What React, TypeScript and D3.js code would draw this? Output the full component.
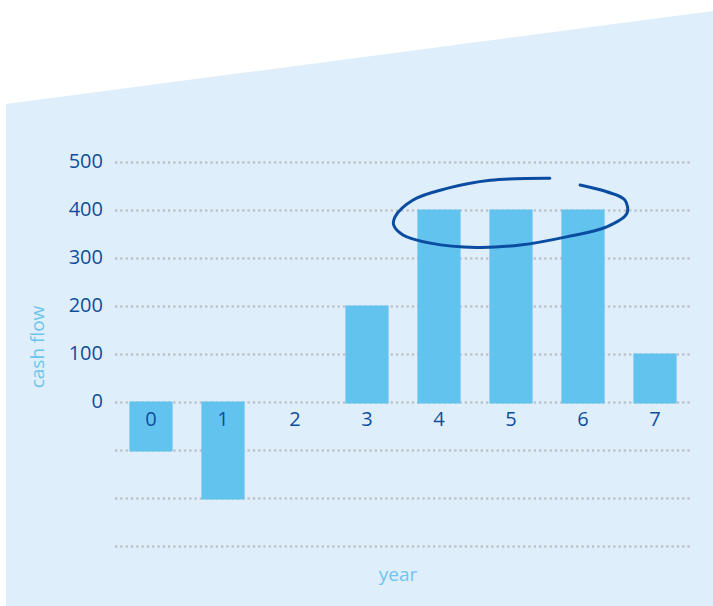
import { useRef, useEffect } from "react";
import * as d3 from "d3";

const years = ["0", "1", "2", "3", "4", "5", "6", "7"];
const cashFlow = [-100, -200, 0, 200, 400, 400, 400, 100];
const yTicks = [0, 100, 200, 300, 400, 500];
const gridValues = [-300, -200, -100, 0, 100, 200, 300, 400, 500];

// hand-drawn ring around years 4-6, in (year index, value) units
const ringYear = [5.54, 4.71, 4.11, 3.64, 3.39, 3.37, 3.5, 3.88, 4.52, 5.13, 5.77, 6.33, 6.61, 6.58, 6.33, 5.96];
const ringValue = [466, 462, 445, 421, 386, 369, 348, 331, 322, 327, 344, 365, 393, 421, 438, 452];

const W = 713;
const H = 606;
const FONT = "'Open Sans', sans-serif";
const DARK = "#0f4e9d";
const LIGHT = "#6cc5ee";

export default function App() {
  const svgRef = useRef<SVGSVGElement | null>(null);

  useEffect(() => {
    document.body.style.margin = "0";
    const svg = d3.select(svgRef.current);
    svg.selectAll("*").remove();

    const x = d3
      .scaleBand<string>()
      .domain(years)
      .range([115, 691])
      .paddingInner(0.4)
      .paddingOuter(0.2);

    const y = d3.scaleLinear().domain([-300, 500]).range([546, 162]);

    // background panel
    svg
      .append("path")
      .attr("d", `M6,${H} L6,104 L${W},11 L${W},${H} Z`)
      .attr("fill", "#dfeefb");

    // dotted grid
    svg
      .append("g")
      .selectAll("line")
      .data(gridValues)
      .join("line")
      .attr("x1", 115)
      .attr("x2", 690)
      .attr("y1", (d) => y(d) + 0.5)
      .attr("y2", (d) => y(d) + 0.5)
      .attr("stroke", "#bfc3c7")
      .attr("stroke-width", 2.3)
      .attr("stroke-dasharray", "2.3 3");

    // y tick labels
    svg
      .append("g")
      .selectAll("text")
      .data(yTicks)
      .join("text")
      .attr("x", 103)
      .attr("y", (d) => y(d) + 6)
      .attr("text-anchor", "end")
      .attr("font-family", FONT)
      .attr("font-size", 20)
      .attr("fill", DARK)
      .text((d) => d);

    // bars
    svg
      .append("g")
      .selectAll("rect")
      .data(cashFlow)
      .join("rect")
      .attr("x", (_, i) => x(years[i])!)
      .attr("width", x.bandwidth())
      .attr("y", (d) => Math.min(y(d), y(0)) - 0.5)
      .attr("height", (d) => (d === 0 ? 0 : Math.abs(y(d) - y(0)) + 2))
      .attr("fill", "#62c3ef");

    // year labels
    svg
      .append("g")
      .selectAll("text")
      .data(years)
      .join("text")
      .attr("x", (d) => x(d)! + x.bandwidth() / 2)
      .attr("y", 426)
      .attr("text-anchor", "middle")
      .attr("font-family", FONT)
      .attr("font-size", 20)
      .attr("fill", DARK)
      .text((d) => d);

    // axis titles
    svg
      .append("text")
      .attr("transform", "translate(44,347) rotate(-90)")
      .attr("text-anchor", "middle")
      .attr("font-family", FONT)
      .attr("font-size", 19)
      .attr("fill", LIGHT)
      .text("cash flow");

    svg
      .append("text")
      .attr("x", 398)
      .attr("y", 581)
      .attr("text-anchor", "middle")
      .attr("font-family", FONT)
      .attr("font-size", 19)
      .attr("fill", LIGHT)
      .text("year");

    // ring annotation
    const xc = (t: number) => x(years[0])! + x.bandwidth() / 2 + t * x.step();
    const ring = d3
      .line<number>()
      .x((_, i) => xc(ringYear[i]))
      .y((d) => y(d))
      .curve(d3.curveCatmullRom);

    svg
      .append("path")
      .attr("d", ring(ringValue))
      .attr("fill", "none")
      .attr("stroke", "#0a4ca0")
      .attr("stroke-width", 3)
      .attr("stroke-linecap", "round");
  }, []);

  return <svg ref={svgRef} width={W} height={H} style={{ display: "block" }} />;
}
